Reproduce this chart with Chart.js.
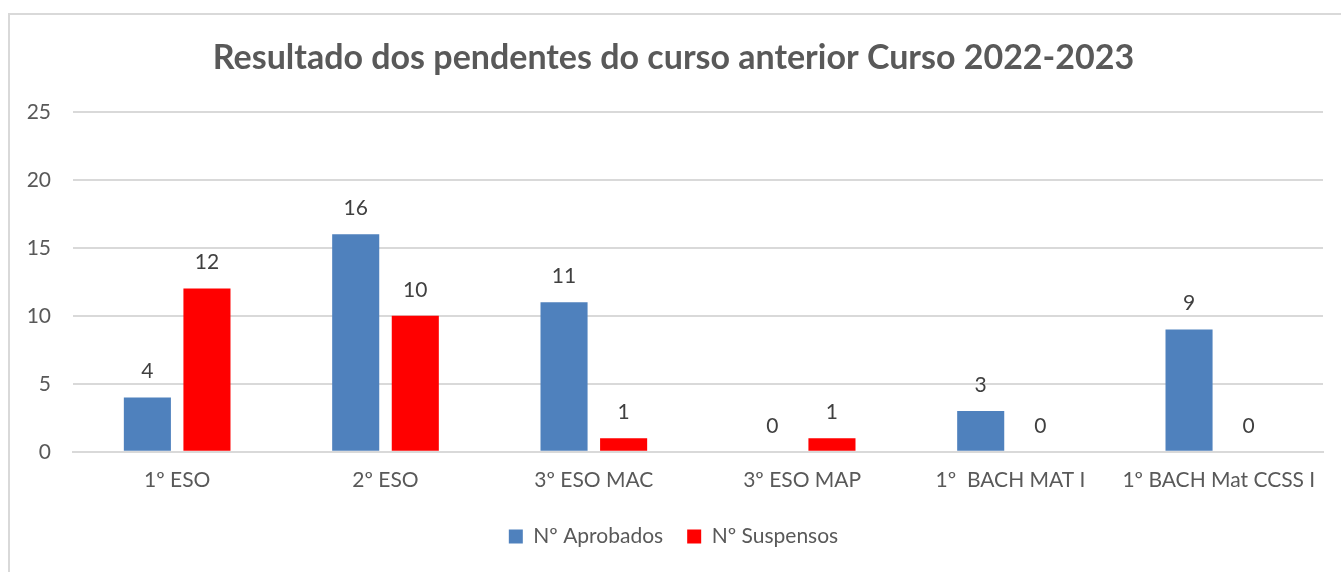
<!DOCTYPE html>
<html><head><meta charset="utf-8">
<script src="https://cdn.jsdelivr.net/npm/chart.js@4.4.1/dist/chart.umd.min.js"></script>
<style>
html,body{margin:0;padding:0;background:#fff;overflow:hidden;}
#frame{position:absolute;left:8px;top:13px;width:1345px;height:575px;border:2px solid #d9d9d9;box-sizing:border-box;}
#wrap{position:absolute;left:0;top:0;width:1341px;height:572px;}
</style></head>
<body>
<div id="frame"></div>
<div id="wrap"><canvas id="c" width="1341" height="572"></canvas></div>
<script>
const categories = ["1º ESO","2º ESO","3º ESO MAC","3º ESO MAP","1º  BACH MAT I","1º BACH Mat CCSS I"];
const aprobados = [4,16,11,0,3,9];
const suspensos = [12,10,1,1,0,0];
const yTicks = [0,5,10,15,20,25];
const FONT = "Lato, 'Open Sans', sans-serif";
const TXT = '#595959';

const labelPlugin = {
  id:'valueLabels',
  afterDatasetsDraw(chart){
    const ctx = chart.ctx;
    ctx.save();
    ctx.font = "21px " + FONT;
    ctx.fillStyle = '#404040';
    ctx.textAlign = 'center';
    ctx.textBaseline = 'middle';
    chart.data.datasets.forEach((ds,i)=>{
      chart.getDatasetMeta(i).data.forEach((bar,j)=>{
        ctx.fillText(String(ds.data[j]), bar.x, bar.y - 26);
      });
    });
    ctx.restore();
  }
};

new Chart(document.getElementById('c'), {
  type:'bar',
  data:{
    labels:categories,
    datasets:[
      {label:'Nº Aprobados', data:aprobados, backgroundColor:'#4F81BD', borderWidth:0},
      {label:'Nº Suspensos', data:suspensos, backgroundColor:'#FF0000', borderWidth:0}
    ]
  },
  options:{
    responsive:false,
    animation:false,
    devicePixelRatio:1,
    categoryPercentage:0.572,
    barPercentage:0.79,
    layout:{padding:{left:24,right:18,top:38,bottom:15}},
    plugins:{
      title:{display:true,text:'Resultado dos pendentes do curso anterior Curso 2022-2023',
        color:TXT,font:{family:FONT,size:34,weight:'bold'},padding:{top:0,bottom:33}},
      legend:{position:'bottom',labels:{color:TXT,font:{family:FONT,size:21},boxWidth:14,boxHeight:14,padding:24}},
      tooltip:{enabled:false}
    },
    scales:{
      x:{grid:{display:false},border:{color:'#d9d9d9',width:2},
        afterFit(s){s.height += 1;},
        ticks:{color:TXT,font:{family:FONT,size:21},padding:8,maxRotation:0,autoSkip:false}},
      y:{min:0,max:25,
        afterBuildTicks(s){s.ticks = yTicks.map(v=>({value:v}));},
        afterFit(s){s.width = 49;},
        grid:{color:'#d9d9d9',lineWidth:2,drawTicks:false},border:{display:false},
        ticks:{color:TXT,font:{family:FONT,size:21},padding:22}}
    }
  },
  plugins:[labelPlugin]
});
</script>
</body></html>
